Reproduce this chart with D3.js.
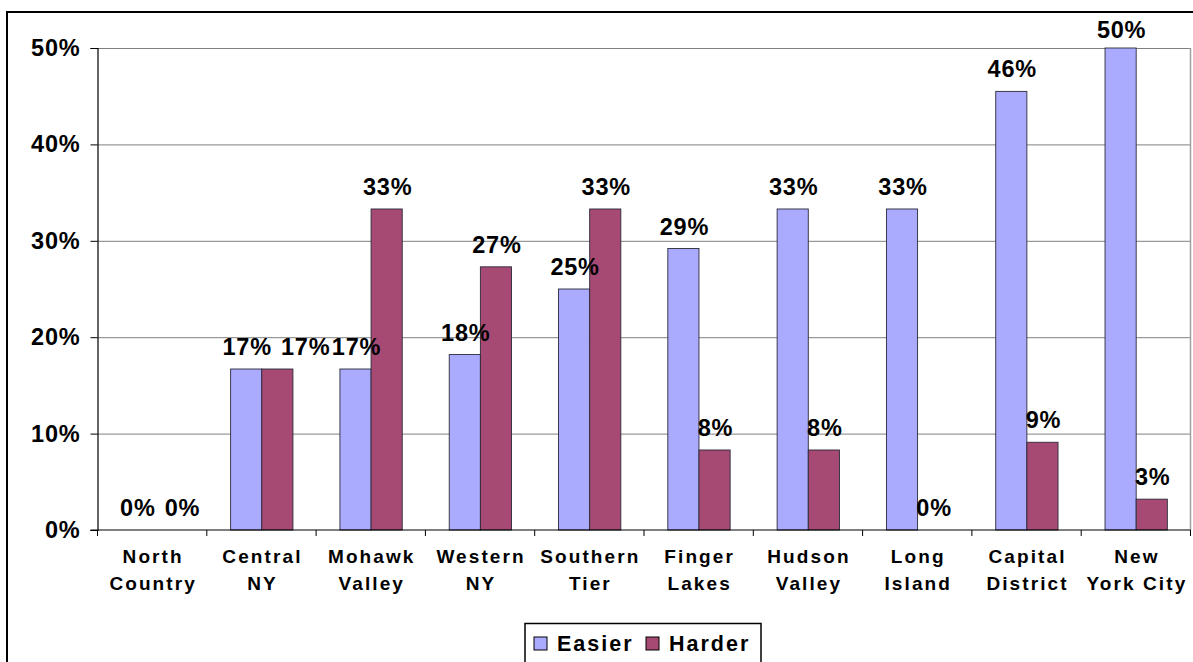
<!DOCTYPE html>
<html><head><meta charset="utf-8">
<script src="https://cdn.jsdelivr.net/npm/d3@7"></script>
<style>
html,body{margin:0;padding:0;background:#fff;}
svg{display:block;font-family:Arial,"Liberation Sans",sans-serif;}
</style></head>
<body><svg id="c" width="1193" height="662"></svg>
<script>
const categories = [["North","Country"],["Central","NY"],["Mohawk","Valley"],["Western","NY"],["Southern","Tier"],["Finger","Lakes"],["Hudson","Valley"],["Long","Island"],["Capital","District"],["New","York City"]];
const seriesNames = ["Easier","Harder"];
const easier = [0, 16.7, 16.7, 18.2, 25.0, 29.2, 33.3, 33.3, 45.5, 50.0];
const harder = [0, 16.7, 33.3, 27.3, 33.3, 8.3, 8.3, 0, 9.1, 3.2];
const valueLabelsEasier = ["0%","17%","17%","18%","25%","29%","33%","33%","46%","50%"];
const valueLabelsHarder = ["0%","17%","33%","27%","33%","8%","8%","0%","9%","3%"];
const yTicks = [0,10,20,30,40,50];
const colors = ["#AAAAFF","#A64A73"];

const svg = d3.select("#c");
const L=97.5, R=1190.5, T=48, B=530;

// outer border
svg.append("rect").attr("x",7).attr("y",12).attr("width",1200).attr("height",700)
  .attr("fill","none").attr("stroke","#000").attr("stroke-width",2);

const x0 = d3.scaleBand().domain(d3.range(categories.length)).range([L,R]).padding(0);
const bw = x0.bandwidth();
const x1 = d3.scaleBand().domain([0,1]).range([bw*0.218, bw*0.788]).padding(0);
const y = d3.scaleLinear().domain([0,50]).range([B,T]);

// gridlines
svg.append("g").selectAll("line").data(yTicks.slice(1)).join("line")
  .attr("x1",L).attr("x2",R).attr("y1",d=>y(d)+0.5).attr("y2",d=>y(d)+0.5)
  .attr("stroke","#808080").attr("stroke-width",1);
// right border of plot
svg.append("line").attr("x1",R).attr("x2",R).attr("y1",T).attr("y2",B)
  .attr("stroke","#a0a0a0").attr("stroke-width",1.5);

// bars
const data = categories.map((c,i)=>({i, vals:[easier[i],harder[i]], labs:[valueLabelsEasier[i],valueLabelsHarder[i]]}));
const g = svg.append("g");
data.forEach(d=>{
  d.vals.forEach((v,s)=>{
    if(v<=0) return;
    g.append("rect")
      .attr("x",x0(d.i)+x1(s)).attr("width",x1.bandwidth())
      .attr("y",y(v)).attr("height",B-y(v))
      .attr("fill",colors[s]).attr("stroke","#2a2a3a").attr("stroke-width",0.9);
  });
});

// y axis
const yAxis = d3.axisLeft(y).tickValues(yTicks).tickFormat(d=>d+"%").tickSize(7).tickPadding(10);
const ya = svg.append("g").attr("transform",`translate(${L},0)`).call(yAxis);
ya.select(".domain").attr("stroke","#000").attr("stroke-width",1.2);
ya.selectAll(".tick line").attr("stroke","#000");
ya.selectAll("text").attr("font-size",23.5).attr("font-weight","bold").attr("fill","#000")
  .attr("letter-spacing","0.8px")
  .attr("font-family","Arial, 'Liberation Sans', sans-serif");

// x axis
svg.append("line").attr("x1",L-7).attr("x2",R).attr("y1",B).attr("y2",B).attr("stroke","#000").attr("stroke-width",1.2);
const bounds = d3.range(categories.length+1).map(i=>L+i*bw);
svg.append("g").selectAll("line").data(bounds).join("line")
  .attr("x1",d=>d).attr("x2",d=>d).attr("y1",B).attr("y2",B+6).attr("stroke","#000");

const cl = svg.append("g");
categories.forEach((c,i)=>{
  const t = cl.append("text").attr("text-anchor","middle").attr("font-size",19)
    .attr("font-weight","bold").attr("letter-spacing","2.1px").attr("fill","#000");
  c.forEach((line,k)=>{
    t.append("tspan").attr("x",x0(i)+bw/2+1).attr("y",563+k*27).text(line);
  });
});

// value labels with simple collision avoidance
const vl = svg.append("g");
data.forEach(d=>{
  let prev=null;
  d.vals.forEach((v,s)=>{
    const cx = x0(d.i)+x1(s)+x1.bandwidth()/2;
    const cy = Math.max(y(v)-22, 30);
    const t = vl.append("text").attr("x",cx+1).attr("y",cy).attr("text-anchor","middle")
      .attr("dominant-baseline","central").attr("font-size",23.5).attr("font-weight","bold")
      .attr("letter-spacing","0.8px").attr("fill","#000").text(d.labs[s]);
    const bb = t.node().getBBox();
    if(prev && bb.x < prev.x+prev.width+8 && Math.abs(bb.y-prev.y) < bb.height*0.8){
      const shift = prev.x+prev.width+9 - bb.x;
      t.attr("x",cx+1+shift);
    }
    prev = t.node().getBBox();
  });
});

// legend
const lg = svg.append("g");
lg.append("rect").attr("x",525).attr("y",623.5).attr("width",236).attr("height",60)
  .attr("fill","#fff").attr("stroke","#000").attr("stroke-width",1.5);
const legX = [534, 646];
seriesNames.forEach((n,s)=>{
  lg.append("rect").attr("x",legX[s]).attr("y",637).attr("width",13).attr("height",13)
    .attr("fill",colors[s]).attr("stroke","#000").attr("stroke-width",1);
  lg.append("text").attr("x",legX[s]+23).attr("y",651).attr("font-size",21.5)
    .attr("font-weight","bold").attr("letter-spacing","2px").attr("fill","#000").text(n);
});
</script></body></html>
